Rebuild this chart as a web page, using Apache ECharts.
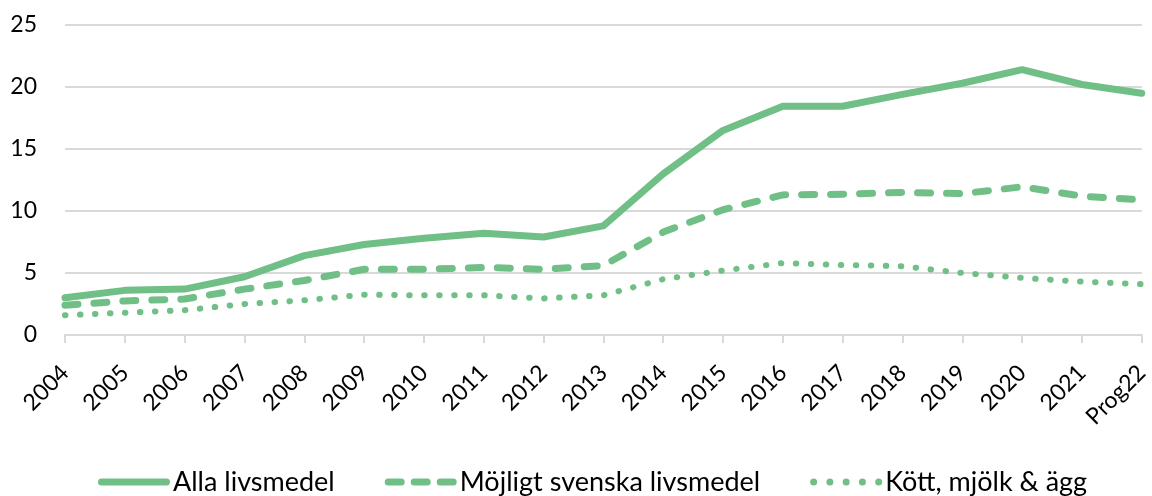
<!DOCTYPE html>
<html>
<head>
<meta charset="utf-8">
<script src="https://cdn.jsdelivr.net/npm/echarts@6/dist/echarts.min.js"></script>
<style>
  html, body { margin: 0; padding: 0; background: #fff; }
  #main { width: 1152px; height: 496px; }
</style>
</head>
<body>
<div id="main"></div>
<script>
var years = ['2004', '2005', '2006', '2007', '2008', '2009', '2010', '2011', '2012', '2013',
    '2014', '2015', '2016', '2017', '2018', '2019', '2020', '2021', 'Prog22'];
var alla = [3.0, 3.6, 3.7, 4.7, 6.4, 7.3, 7.8, 8.2, 7.9, 8.8, 13.0, 16.5, 18.45, 18.45, 19.4, 20.3, 21.4, 20.2, 19.5];
var mojligt = [2.4, 2.75, 2.9, 3.7, 4.4, 5.3, 5.3, 5.45, 5.3, 5.6, 8.3, 10.1, 11.3, 11.35, 11.5, 11.4, 11.95, 11.2, 10.9];
var kott = [1.6, 1.8, 2.0, 2.5, 2.8, 3.25, 3.2, 3.2, 2.95, 3.2, 4.5, 5.2, 5.8, 5.65, 5.55, 5.0, 4.6, 4.3, 4.1];
var names = ['Alla livsmedel', 'Möjligt svenska livsmedel', 'Kött, mjölk & ägg'];

var green = '#70bf86';
var font = 'Lato, "Liberation Sans", sans-serif';

// legend-ikoner: heldragen, streckad, prickad (72 x 7)
var iconSolid = 'path://M3.5,0H68.5A3.5,3.5,0,0,1,68.5,7H3.5A3.5,3.5,0,0,1,3.5,0Z';
var iconDash = 'path://M3.5,0H16.5A3.5,3.5,0,0,1,16.5,7H3.5A3.5,3.5,0,0,1,3.5,0Z' +
    'M29.5,0H42.5A3.5,3.5,0,0,1,42.5,7H29.5A3.5,3.5,0,0,1,29.5,0Z' +
    'M55.5,0H68.5A3.5,3.5,0,0,1,68.5,7H55.5A3.5,3.5,0,0,1,55.5,0Z';
var iconDot = 'path://M3.5,0A3.5,3.5,0,1,1,3.5,7A3.5,3.5,0,1,1,3.5,0Z' +
    'M19.75,0A3.5,3.5,0,1,1,19.75,7A3.5,3.5,0,1,1,19.75,0Z' +
    'M36,0A3.5,3.5,0,1,1,36,7A3.5,3.5,0,1,1,36,0Z' +
    'M52.25,0A3.5,3.5,0,1,1,52.25,7A3.5,3.5,0,1,1,52.25,0Z' +
    'M68.5,0A3.5,3.5,0,1,1,68.5,7A3.5,3.5,0,1,1,68.5,0Z';

var myChart = echarts.init(document.getElementById('main'));

// tre serier, samma färg, olika linjetyp
function serie(name, data, width, dash) {
    return {
        name: name,
        type: 'line',
        data: data,
        symbol: 'none',
        smooth: false,
        lineStyle: { color: green, width: width, type: dash, cap: 'round', join: 'round' },
        itemStyle: { color: green }
    };
}

myChart.setOption({
    animation: false,
    grid: { left: 65, right: 6, top: 25, bottom: 161 },
    legend: {
        top: 466,
        left: 98,
        padding: 0,
        itemWidth: 72,
        itemHeight: 7,
        itemGap: 50,
        textStyle: { fontFamily: font, fontSize: 27, lineHeight: 32, color: '#000', padding: [0, 0, 0, -2] },
        data: [
            { name: names[0], icon: iconSolid },
            { name: names[1], icon: iconDash },
            { name: names[2], icon: iconDot }
        ]
    },
    xAxis: {
        type: 'category',
        boundaryGap: false,
        data: years,
        axisLine: { lineStyle: { color: '#d9d9d9', width: 2 } },
        axisTick: { show: true, length: 8, lineStyle: { color: '#d9d9d9', width: 2 } },
        axisLabel: { rotate: 45, margin: 34, fontFamily: font, fontSize: 23, color: '#000', interval: 0 }
    },
    yAxis: {
        type: 'value',
        min: 0,
        max: 25,
        interval: 5,
        axisLine: { show: false },
        axisTick: { show: false },
        splitLine: { lineStyle: { color: '#d9d9d9', width: 2 } },
        axisLabel: { margin: 28, fontFamily: font, fontSize: 23, color: '#000' }
    },
    series: [
        serie(names[0], alla, 7, 'solid'),
        serie(names[1], mojligt, 7, [13, 16]),
        serie(names[2], kott, 6, [0.5, 14.5])
    ]
});
</script>
</body>
</html>
